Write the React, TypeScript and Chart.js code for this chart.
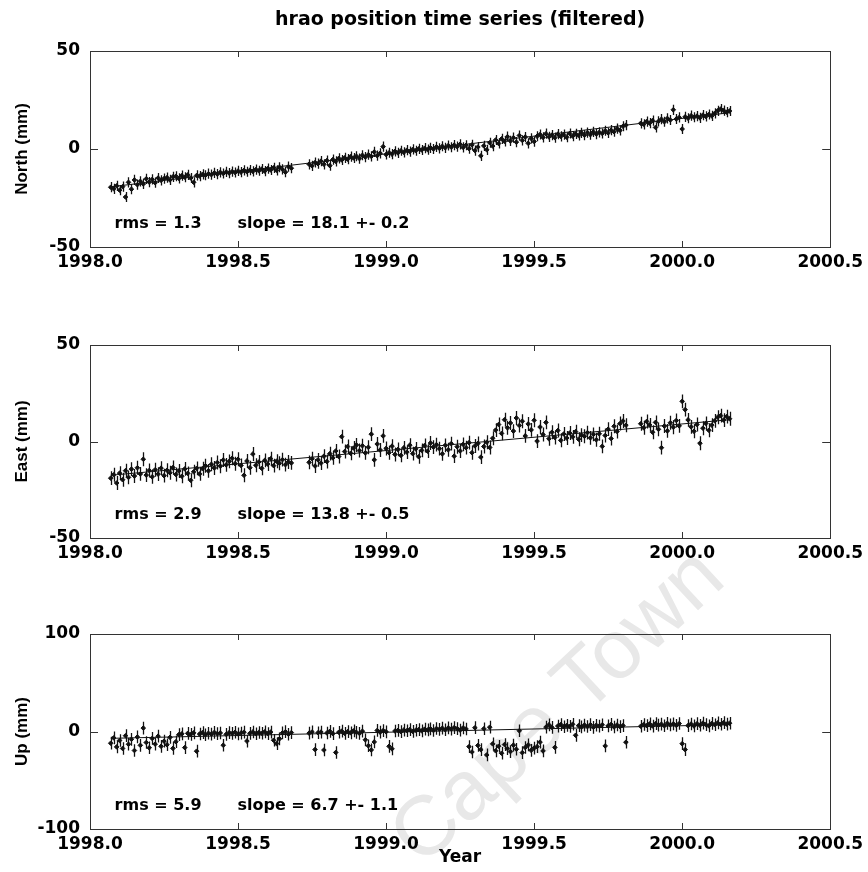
import React, { useEffect, useRef } from 'react';
import { Chart, registerables } from 'chart.js';

Chart.register(...registerables);

// ---------------- data ----------------
const chartTitle = 'hrao position time series (filtered)';
const xTickValues = [1998.0, 1998.5, 1999.0, 1999.5, 2000.0, 2000.5];
const xTickLabels = ['1998.0', '1998.5', '1999.0', '1999.5', '2000.0', '2000.5'];

const epochs = [
  1998.07, 1998.08, 1998.09, 1998.10, 1998.11, 1998.12, 1998.13, 1998.14, 1998.15, 1998.16,
  1998.17, 1998.18, 1998.19, 1998.20, 1998.21, 1998.22, 1998.23, 1998.24, 1998.25, 1998.26,
  1998.27, 1998.28, 1998.29, 1998.30, 1998.31, 1998.32, 1998.33, 1998.34, 1998.35, 1998.36,
  1998.37, 1998.38, 1998.39, 1998.40, 1998.41, 1998.42, 1998.43, 1998.44, 1998.45, 1998.46,
  1998.47, 1998.48, 1998.49, 1998.50, 1998.51, 1998.52, 1998.53, 1998.54, 1998.55, 1998.56,
  1998.57, 1998.58, 1998.59, 1998.60, 1998.61, 1998.62, 1998.63, 1998.64, 1998.65, 1998.66,
  1998.67, 1998.68,
  1998.74, 1998.75, 1998.76, 1998.77, 1998.78, 1998.79, 1998.80, 1998.81, 1998.82, 1998.83,
  1998.84, 1998.85, 1998.86, 1998.87, 1998.88, 1998.89, 1998.90, 1998.91, 1998.92, 1998.93,
  1998.94, 1998.95, 1998.96, 1998.97, 1998.98, 1998.99,
  1999.00, 1999.01, 1999.02, 1999.03, 1999.04, 1999.05, 1999.06, 1999.07, 1999.08, 1999.09,
  1999.10, 1999.11, 1999.12, 1999.13, 1999.14, 1999.15, 1999.16, 1999.17, 1999.18, 1999.19,
  1999.20, 1999.21, 1999.22, 1999.23, 1999.24, 1999.25, 1999.26, 1999.27, 1999.28, 1999.29,
  1999.30, 1999.31, 1999.32, 1999.33, 1999.34, 1999.35, 1999.36, 1999.37, 1999.38, 1999.39,
  1999.40, 1999.41, 1999.42, 1999.43, 1999.44, 1999.45, 1999.46, 1999.47, 1999.48, 1999.49,
  1999.50, 1999.51, 1999.52, 1999.53, 1999.54, 1999.55, 1999.56, 1999.57, 1999.58, 1999.59,
  1999.60, 1999.61, 1999.62, 1999.63, 1999.64, 1999.65, 1999.66, 1999.67, 1999.68, 1999.69,
  1999.70, 1999.71, 1999.72, 1999.73, 1999.74, 1999.75, 1999.76, 1999.77, 1999.78, 1999.79,
  1999.80, 1999.81,
  1999.86, 1999.87, 1999.88, 1999.89, 1999.90, 1999.91, 1999.92, 1999.93, 1999.94, 1999.95,
  1999.96, 1999.97, 1999.98, 1999.99,
  2000.00, 2000.01, 2000.02, 2000.03, 2000.04, 2000.05, 2000.06, 2000.07, 2000.08, 2000.09,
  2000.10, 2000.11, 2000.12, 2000.13, 2000.14, 2000.15, 2000.16,
];

const north = [
  -19.5, -20.3, -18.8, -21.0, -19.2, -24.5, -17.0, -20.5, -15.8, -18.2,
  -16.5, -17.8, -15.2, -16.9, -15.5, -17.2, -14.8, -16.0, -15.1, -14.6,
  -15.8, -14.2, -13.9, -15.0, -13.6, -14.4, -13.2, -14.8, -17.0, -13.5,
  -13.8, -12.9, -13.4, -12.6, -13.1, -12.2, -12.8, -11.9, -12.5, -11.7,
  -12.3, -11.5, -12.0, -11.2, -11.8, -10.9, -11.6, -10.8, -11.4, -10.5,
  -11.1, -10.2, -11.3, -10.0, -10.7, -9.6, -10.9, -9.3, -10.4, -11.8,
  -9.0, -9.8,
  -7.8, -8.6, -6.9, -7.5, -6.2, -7.8, -5.9, -8.5, -5.4, -6.3,
  -4.8, -5.6, -4.5, -5.2, -3.9, -4.6, -3.7, -4.9, -3.2, -4.1,
  -2.9, -3.8, -1.5, -3.4, -2.2, 1.2,
  -2.8, -1.9, -2.6, -1.2, -2.0, -0.9, -1.7, -0.6, -1.3, -0.2,
  -0.9, 0.1, -0.5, 0.4, -0.3, 0.6, 0.0, 1.1, 0.3, 1.4,
  0.6, 1.8, 0.9, 2.0, 1.2, 2.4, 0.8, 1.9, 0.2, 2.1,
  -0.8, 1.0, -3.5, 1.6, -0.4, 3.2, 1.5, 4.6, 2.8, 5.2,
  3.9, 6.3, 4.1, 5.8, 3.5, 6.9, 4.4, 6.1, 2.9, 5.4,
  3.8, 6.5, 7.4, 5.9, 7.8, 6.2, 7.1, 5.8, 7.6, 6.4,
  7.3, 6.0, 7.9, 6.6, 7.7, 6.9, 8.2, 7.1, 8.4, 7.3,
  8.7, 7.6, 8.5, 7.9, 9.3, 8.2, 9.6, 8.8, 10.4, 9.5,
  11.6, 12.2,
  13.1, 12.6, 14.0, 13.2, 14.5, 11.0, 14.1, 15.2, 13.9, 15.6,
  14.8, 20.0, 15.3, 16.1,
  10.2, 16.4, 15.7, 17.0, 16.2, 16.8, 15.9, 17.3, 16.6, 17.6,
  16.9, 18.2, 19.5, 20.4, 19.6, 18.8, 19.4,
];

const east = [
  -19.0, -17.2, -21.5, -16.4, -19.8, -15.1, -18.6, -14.3, -17.9, -13.6,
  -16.8, -9.2, -17.4, -15.0, -18.3, -14.6, -16.9, -13.8, -17.7, -14.9,
  -16.2, -13.5, -17.1, -15.3, -18.0, -14.2, -16.5, -20.1, -15.7, -13.9,
  -16.8, -14.1, -12.6, -15.2, -11.8, -13.7, -10.9, -12.8, -9.6, -12.1,
  -10.3, -8.7, -11.5, -9.2, -12.4, -17.5, -10.1, -13.6, -6.5, -12.3,
  -10.6, -13.9, -9.8, -11.7, -8.9, -12.5, -10.2, -11.3, -9.4, -12.0,
  -10.6, -11.1,
  -10.8, -8.9, -12.7, -9.5, -11.2, -7.6, -10.4, -6.3, -8.5, -4.9,
  -7.8, 2.5, -5.2, -2.6, -6.1, -3.4, -1.8, -4.7, -2.2, -5.9,
  -3.0, 3.8, -9.5, -1.3, -4.4, 2.9,
  -3.6, -5.8, -2.4, -6.7, -4.1, -7.2, -3.3, -5.5, -1.9, -6.3,
  -3.8, -7.9, -4.6, -2.1, -5.0, -0.8, -2.9, -1.6, -3.7, -6.4,
  -2.0, -4.3, -1.1, -7.6, -2.7, -4.9, -1.5, -3.2, -0.6, -5.8,
  -2.3, -1.0, -8.1, -2.6, -0.4, -3.1, 1.7, 5.9, 8.8, 4.2,
  11.3, 7.1, 9.6, 5.4, 12.2, 8.3, 10.5, 2.9, 9.1, 6.0,
  11.0, 0.2, 7.5, 3.6, 9.9, 1.4, 4.8, 2.1, 5.7, 0.6,
  3.9, 1.8, 4.4, 2.4, 5.1, 1.2, 3.3, 2.7, 4.6, 1.9,
  3.7, 0.9, 4.0, -2.5, 3.1, 6.4, 1.5, 7.9, 5.2, 9.3,
  10.6, 8.4,
  9.2, 7.1, 10.4, 8.6, 4.8, 9.9, 6.3, -3.2, 8.0, 5.5,
  9.7, 7.4, 10.9, 8.1,
  20.8, 16.5, 11.2, 7.6, 5.3, 8.8, -0.9, 6.9, 9.4, 5.8,
  8.5, 10.7, 12.6, 13.4, 11.1, 12.9, 11.8,
];

const up = [
  -12.0, -6.5, -15.8, -9.2, -17.4, -4.3, -13.1, -8.0, -19.5, -5.6,
  -14.2, 3.5, -11.3, -16.7, -7.1, -12.9, -4.8, -15.2, -9.9, -13.6,
  -6.0, -17.3, -10.5, -3.2, -2.4, -16.5, -1.9, -3.0, -1.4, -20.2,
  -2.6, -1.1, -3.3, -1.8, -2.7, -0.9, -2.2, -1.5, -14.1, -2.9,
  -1.2, -2.0, -0.8, -2.5, -1.6, -0.7, -9.8, -1.9, -0.5, -2.3,
  -1.0, -1.8, -0.3, -2.1, -0.6, -9.0, -12.4, -7.5, -1.4, -0.2,
  -2.8, -1.1,
  -1.7, -0.4, -18.5, -1.3, -0.6, -19.0, -1.5, 0.2, -2.2, -21.5,
  -0.8, 0.4, -1.9, -0.1, -1.4, 0.6, -0.9, -2.0, 0.3, -8.5,
  -14.6, -18.9, -10.7, 1.1, -0.7, 0.9,
  -0.3, -15.2, -17.8, 0.5, 1.2, -0.2, 1.5, 0.8, 1.9, 0.1,
  1.3, 2.0, 0.7, 2.4, 1.6, 2.7, 1.0, 3.1, 2.2, 3.4,
  1.8, 3.7, 2.5, 4.0, 3.0, 1.4, 3.8, 2.6, -15.5, -21.0,
  3.9, -14.3, -18.6, 2.8, -24.0, 4.4, -12.7, -19.8, -15.1, -22.3,
  -13.4, -17.5, -20.6, -14.0, -18.2, 0.8, -21.7, -16.4, -13.8, -19.3,
  -17.0, -15.6, -10.9, -19.9, 4.5, 6.8, 4.2, -16.3, 5.6, 7.1,
  4.9, 6.2, 5.3, 7.4, -3.9, 6.0, 4.7, 6.6, 5.1, 7.0,
  4.3, 6.4, 5.5, 6.9, -14.8, 5.8, 7.3, 4.6, 6.7, 5.0,
  6.1, -11.0,
  5.4, 7.2, 6.0, 7.8, 5.6, 8.1, 6.5, 7.5, 5.9, 8.4,
  6.8, 7.9, 6.3, 8.2,
  -12.5, -18.6, 6.1, 7.7, 5.7, 8.0, 6.4, 8.6, 7.0, 5.8,
  8.3, 6.9, 8.8, 7.4, 9.1, 7.6, 8.5,
];

// fitted trend lines (start / end epochs)
const trendEpochs = [1998.07, 2000.16];
const northTrend = [-19.3, 18.5];
const eastTrend = [-17.5, 11.3];
const upTrend = [-7.0, 7.0];

// 1-sigma formal errors (mm)
const northSigma = 2.6;
const eastSigma = 3.6;
const upSigma = 6.5;

const yTitles = ['North (mm)', 'East (mm)', 'Up (mm)'];
const yTickValuesNE = [-50, 0, 50];
const yTickLabelsNE = ['-50', '0', '50'];
const yTickValuesU = [-100, 0, 100];
const yTickLabelsU = ['-100', '0', '100'];
const rmsLabels = ['rms = 1.3', 'rms = 2.9', 'rms = 5.9'];
const slopeLabels = ['slope = 18.1 +- 0.2', 'slope = 13.8 +- 0.5', 'slope = 6.7 +- 1.1'];
const xTitle = 'Year';
const watermark = 'Cape Town';

// ---------------- layout ----------------
type Panel = {
  values: number[];
  trend: number[];
  sigma: number;
  yTitle: string;
  yMin: number;
  yMax: number;
  yTicks: number[];
  yLabels: string[];
  rms: string;
  slope: string;
  textY: number;
  top: number;
  height: number;
  padTop: number;
  xAxisH: number;
  showTitle: boolean;
  showXTitle: boolean;
};

const PANELS: Panel[] = [
  {
    values: north, trend: northTrend, sigma: northSigma, yTitle: yTitles[0],
    yMin: -50, yMax: 50, yTicks: yTickValuesNE, yLabels: yTickLabelsNE,
    rms: rmsLabels[0], slope: slopeLabels[0], textY: -38,
    top: 0, height: 290, padTop: 51, xAxisH: 43, showTitle: true, showXTitle: false,
  },
  {
    values: east, trend: eastTrend, sigma: eastSigma, yTitle: yTitles[1],
    yMin: -50, yMax: 50, yTicks: yTickValuesNE, yLabels: yTickLabelsNE,
    rms: rmsLabels[1], slope: slopeLabels[1], textY: -38,
    top: 290, height: 290, padTop: 55, xAxisH: 42, showTitle: false, showXTitle: false,
  },
  {
    values: up, trend: upTrend, sigma: upSigma, yTitle: yTitles[2],
    yMin: -100, yMax: 100, yTicks: yTickValuesU, yLabels: yTickLabelsU,
    rms: rmsLabels[2], slope: slopeLabels[2], textY: -76,
    top: 580, height: 292, padTop: 54, xAxisH: 43, showTitle: false, showXTitle: true,
  },
];

const INK = '#111';
const FONT = 'DejaVu Sans';
const RMS_X = 1998.083;
const SLOPE_X = 1998.498;

function makeChart(canvas: HTMLCanvasElement, p: Panel): Chart {
  const points = epochs
    .map((x, i) => ({ x, y: p.values[i] }))
    .filter((d) => typeof d.y === 'number');
  const trendPts = trendEpochs.map((x, i) => ({ x, y: p.trend[i] }));

  const decor = {
    id: 'panelDecor',
    beforeDatasetsDraw(chart: any) {
      const ctx = chart.ctx as CanvasRenderingContext2D;
      const ys = chart.scales.y;
      const meta = chart.getDatasetMeta(1);
      ctx.save();
      ctx.strokeStyle = INK;
      ctx.lineWidth = 1.3;
      ctx.beginPath();
      meta.data.forEach((el: any, j: number) => {
        const v = points[j].y;
        const px = Math.round(el.x) + 0.5;
        ctx.moveTo(px, ys.getPixelForValue(v + p.sigma));
        ctx.lineTo(px, ys.getPixelForValue(v - p.sigma));
      });
      ctx.stroke();
      ctx.restore();
    },
    afterDraw(chart: any) {
      const ctx = chart.ctx as CanvasRenderingContext2D;
      const a = chart.chartArea;
      const xs = chart.scales.x;
      const ys = chart.scales.y;
      ctx.save();
      // frame
      ctx.strokeStyle = '#333';
      ctx.lineWidth = 1;
      ctx.strokeRect(Math.round(a.left) + 0.5, Math.round(a.top) + 0.5,
        Math.round(a.right - a.left), Math.round(a.bottom - a.top));
      // inward ticks
      ctx.beginPath();
      xs.ticks.forEach((t: any) => {
        const px = Math.round(xs.getPixelForValue(t.value)) + 0.5;
        ctx.moveTo(px, a.top); ctx.lineTo(px, a.top + 6);
        ctx.moveTo(px, a.bottom); ctx.lineTo(px, a.bottom - 6);
      });
      ys.ticks.forEach((t: any) => {
        const py = Math.round(ys.getPixelForValue(t.value)) + 0.5;
        ctx.moveTo(a.left, py); ctx.lineTo(a.left + 8, py);
        ctx.moveTo(a.right, py); ctx.lineTo(a.right - 8, py);
      });
      ctx.stroke();
      // annotation texts
      ctx.fillStyle = '#000';
      ctx.font = `bold 16px "${FONT}"`;
      ctx.textBaseline = 'middle';
      ctx.textAlign = 'left';
      const ty = ys.getPixelForValue(p.textY);
      ctx.fillText(p.rms, xs.getPixelForValue(RMS_X), ty);
      ctx.fillText(p.slope, xs.getPixelForValue(SLOPE_X), ty);
      if (p.showTitle) {
        ctx.font = `bold 19px "${FONT}"`;
        ctx.textAlign = 'center';
        ctx.fillText(chartTitle, (a.left + a.right) / 2, 20);
      }
      ctx.restore();
    },
  };

  return new Chart(canvas, {
    type: 'scatter',
    data: {
      datasets: [
        {
          label: 'trend',
          data: trendPts,
          showLine: true,
          borderColor: INK,
          borderWidth: 1,
          pointRadius: 0,
          order: 2,
        } as any,
        {
          label: 'data',
          data: points,
          pointStyle: 'rectRot',
          pointRadius: 2.3,
          borderColor: INK,
          backgroundColor: INK,
          borderWidth: 1,
          order: 1,
        } as any,
      ],
    },
    options: {
      responsive: false,
      devicePixelRatio: 1,
      animation: false,
      events: [],
      layout: { padding: { top: p.padTop, left: 0, right: 35, bottom: 0 } },
      plugins: { legend: { display: false }, tooltip: { enabled: false }, title: { display: false } },
      scales: {
        x: {
          type: 'linear',
          position: 'bottom',
          min: 1998,
          max: 2000.5,
          afterBuildTicks: (s: any) => { s.ticks = xTickValues.map((v) => ({ value: v })); },
          afterFit: (s: any) => { s.height = p.xAxisH; },
          grid: { display: false, drawTicks: false },
          border: { display: false },
          ticks: {
            autoSkip: false,
            maxRotation: 0,
            minRotation: 0,
            padding: 5,
            color: '#000',
            font: { family: FONT, weight: 'bold', size: 17 },
            callback: (_v: any, i: number) => xTickLabels[i],
          },
          title: {
            display: p.showXTitle,
            text: xTitle,
            color: '#000',
            font: { family: FONT, weight: 'bold', size: 17 },
            padding: { top: 0, bottom: 4 },
          },
        },
        y: {
          type: 'linear',
          position: 'left',
          min: p.yMin,
          max: p.yMax,
          afterBuildTicks: (s: any) => { s.ticks = p.yTicks.map((v) => ({ value: v })); },
          afterFit: (s: any) => { s.width = 90; },
          grid: { display: false, drawTicks: false },
          border: { display: false },
          ticks: {
            padding: 10,
            color: '#000',
            font: { family: FONT, weight: 'bold', size: 17 },
            callback: (_v: any, i: number) => p.yLabels[i],
          },
          title: {
            display: true,
            text: p.yTitle,
            color: '#000',
            font: { family: 'Liberation Sans', weight: 'bold', size: 17 },
            padding: { top: 12, bottom: 0 },
          },
        },
      },
    } as any,
    plugins: [decor],
  });
}

export default function App() {
  const refs = useRef<(HTMLCanvasElement | null)[]>([]);

  useEffect(() => {
    const charts = PANELS.map((p, i) => makeChart(refs.current[i] as HTMLCanvasElement, p));
    return () => charts.forEach((c) => c.destroy());
  }, []);

  return (
    <div style={{ position: 'absolute', left: 0, top: 0, width: 868, height: 872, background: '#fff', overflow: 'hidden' }}>
      <div
        style={{
          position: 'absolute',
          left: 305,
          top: 662,
          width: 500,
          textAlign: 'center',
          fontFamily: 'Liberation Sans, sans-serif',
          fontSize: 84,
          lineHeight: '84px',
          color: '#e8e8e8',
          transform: 'rotate(-43deg)',
          transformOrigin: '250px 42px',
          whiteSpace: 'nowrap',
        }}
      >
        {watermark}
      </div>
      {PANELS.map((p, i) => (
        <canvas
          key={i}
          ref={(el) => { refs.current[i] = el; }}
          width={868}
          height={p.height}
          style={{ position: 'absolute', left: 0, top: p.top, width: 868, height: p.height }}
        />
      ))}
    </div>
  );
}
